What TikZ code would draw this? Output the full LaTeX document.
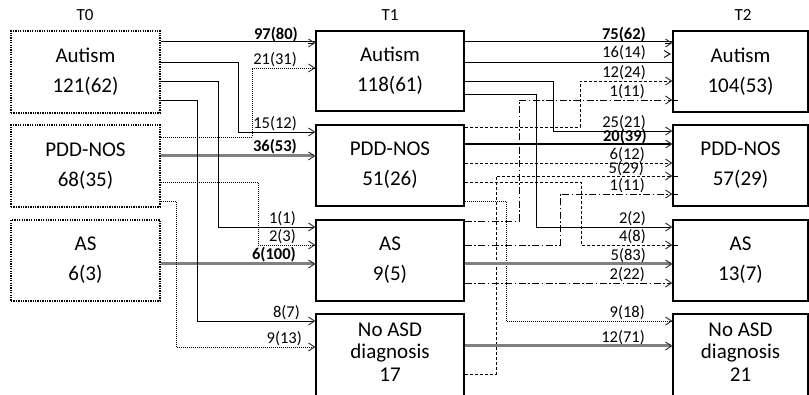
\documentclass[tikz,border=0pt]{standalone}
\usepackage{fontspec}
\setmainfont{Carlito}
\usetikzlibrary{arrows.meta}
\newcommand{\boxfnt}{\fontsize{21}{30}\selectfont}
\newcommand{\labfnt}{\fontsize{16.5}{19}\selectfont}
\begin{document}
\begin{tikzpicture}[x=1pt,y=-1pt,
  t0box/.style={draw, line width=1.3pt, dash pattern=on 1.3pt off 1.1pt, rectangle, inner sep=0pt, align=center, font=\boxfnt},
  t1box/.style={draw, line width=1.5pt, rectangle, inner sep=0pt, align=center, font=\boxfnt},
  ttl/.style={font=\fontsize{17}{20}\selectfont, inner sep=0pt},
  boxtxt/.style={font=\fontsize{21}{22.5}\selectfont, align=center, inner sep=0pt},
  lab/.style={font=\labfnt, anchor=base east, inner sep=0pt},
  labb/.style={font=\labfnt\bfseries, anchor=base east, inner sep=0pt},
  tip/.style={-{Straight Barb[length=6pt,width=8pt,line width=0.9pt,color=black!85]}},
  sol/.style={draw=black, line width=0.9pt},
  dott/.style={sol, dash pattern=on 1pt off 1pt},
  dsh/.style={sol, dash pattern=on 3pt off 2pt},
  dd/.style={sol, dash pattern=on 7pt off 2.5pt on 1.5pt off 2.5pt},
  thk/.style={draw=black!50, line width=3pt},
  dbl/.style={draw=black, line width=0.8pt, double distance=1.4pt}]
\useasboundingbox (0,0) rectangle (809,395);
\clip (0,0) rectangle (809,395);

% titles
\node[ttl] (t0) at (85,15) {T0};
\node[ttl] (t1) at (390,15) {T1};
\node[ttl] (t2) at (743,15) {T2};

% T0 boxes
\node[t0box, minimum width=149pt, minimum height=82pt] (a0) at (85.5,72) {Autism\\121(62)};
\node[t0box, minimum width=149pt, minimum height=82pt] (p0) at (85.5,166) {PDD-NOS\\68(35)};
\node[t0box, minimum width=149pt, minimum height=81pt] (s0) at (85.5,260.5) {AS\\6(3)};

% T1 boxes
\node[t1box, minimum width=148pt, minimum height=80pt] (a1) at (390,71) {Autism\\118(61)};
\node[t1box, minimum width=148pt, minimum height=81pt] (p1) at (390,165.5) {PDD-NOS\\51(26)};
\node[t1box, minimum width=148pt, minimum height=81pt] (s1) at (390,260.5) {AS\\9(5)};
\node[t1box, minimum width=148pt, minimum height=106pt] (n1) at (390,367) {};
\node[boxtxt] (n1t) at (390,352) {No ASD\\diagnosis\\17};

% T2 boxes
\node[t1box, minimum width=135pt, minimum height=81pt] (a2) at (740.5,71.5) {Autism\\104(53)};
\node[t1box, minimum width=135pt, minimum height=81pt] (p2) at (740.5,165.5) {PDD-NOS\\57(29)};
\node[t1box, minimum width=135pt, minimum height=81pt] (s2) at (740.5,260.5) {AS\\13(7)};
\node[t1box, minimum width=135pt, minimum height=106pt] (n2) at (740.5,367) {};
\node[boxtxt] (n2t) at (740.5,352) {No ASD\\diagnosis\\21};

% ---------- T0 -> T1 ----------
\draw[dbl] (a0.east |- 0,43) -- (a1.west |- 0,43);
\draw[sol,tip] (a1.west |- 0,43) ++(-7,0) -- (a1.west |- 0,43);
\node[labb] (l01) at (298,40) {97(80)};

\draw[dott,tip] (p0.east |- 0,137) -| (252,68) -- (a1.west |- 0,68);
\node[lab] (l02) at (297,65) {21(31)};

\draw[sol,tip] (a0.east |- 0,62) -| (238,132) -- (p1.west |- 0,132);
\node[lab] (l03) at (297,129) {15(12)};

\draw[thk,tip] (p0.east |- 0,156) -- (p1.west |- 0,156);
\node[labb] (l04) at (297,152) {36(53)};

\draw[sol,tip] (a0.east |- 0,81) -| (218,227) -- (s1.west |- 0,227);
\node[lab] (l05) at (296,224) {1(1)};

\draw[dott,tip] (p0.east |- 0,182) -| (258,245) -- (s1.west |- 0,245);
\node[lab] (l06) at (296,242) {2(3)};

\draw[thk,tip] (s0.east |- 0,264) -- (s1.west |- 0,264);
\node[labb] (l07) at (296,260) {6(100)};

\draw[sol,tip] (a0.east |- 0,100) -| (197,321) -- (n1.west |- 0,321);
\node[lab] (l08) at (300,318) {8(7)};

\draw[dott,tip] (p0.east |- 0,201) -| (176,347) -- (n1.west |- 0,347);
\node[lab] (l09) at (302,344) {9(13)};

% ---------- T1 -> T2 ----------
\draw[dbl] (a1.east |- 0,43) -- (a2.west |- 0,43);
\draw[sol,tip] (a2.west |- 0,43) ++(-7,0) -- (a2.west |- 0,43);
\node[labb] (l11) at (646,40) {75(62)};

\draw[sol] (a1.east |- 0,62) -- (a2.west |- 0,62);
\draw[sol] (664,50.5) -- (670,54) -- (664,57.5);
\node[lab] (l12) at (646,58) {16(14)};

\draw[dsh,tip] (p1.east |- 0,127) -| (580,81) -- (a2.west |- 0,81);
\node[lab] (l13) at (646,78) {12(24)};

\draw[dd,tip] (s1.east |- 0,221) -| (519,100) -- (a2.west |- 0,100);
\draw[sol] (a2.west |- 0,100) -- ++(6,0);
\node[lab] (l14) at (645,97) {1(11)};

\draw[sol,tip] (a1.east |- 0,81) -| (553,131) -- (p2.west |- 0,131);
\node[lab] (l15) at (646,128) {25(21)};

\draw[sol, line width=1.3pt, tip] (p1.east |- 0,144) -- (p2.west |- 0,144);
\node[labb] (l16) at (647,142) {20(39)};

\draw[dsh,tip] (p1.east |- 0,163) -- (p2.west |- 0,163);
\node[lab] (l17) at (645,160) {6(12)};

\draw[dsh,tip] (n1.east |- 0,374) -| (496,176) -- (p2.west |- 0,176);
\draw[sol] (p2.west |- 0,176) -- ++(6,0);
\node[lab] (l18) at (644,173.5) {5(29)};

\draw[dsh,tip] (p1.east |- 0,182) -| (581,245) -- (s2.west |- 0,245);
\draw[sol] (s2.west |- 0,245) -- ++(6,0);
\node[lab] (l19) at (646,242) {4(8)};

\draw[dott,tip] (p1.east |- 0,201) -| (506,321) -- (n2.west |- 0,321);
\node[lab] (l20) at (645,318) {9(18)};

\draw[dd,tip] (s1.east |- 0,245) -| (560,194) -- (p2.west |- 0,194);
\draw[sol] (p2.west |- 0,194) -- ++(6,0);
\node[lab] (l21) at (645,191) {1(11)};

\draw[sol,tip] (a1.east |- 0,94) -| (536,227) -- (s2.west |- 0,227);
\node[lab] (l22) at (646,224) {2(2)};

\draw[thk,tip] (s1.east |- 0,264) -- (s2.west |- 0,264);
\node[lab] (l23) at (646,261) {5(83)};

\draw[dd,tip] (s1.east |- 0,283) -- (s2.west |- 0,283);
\node[lab] (l24) at (645,280) {2(22)};

\draw[thk,tip] (n1.east |- 0,346) -- (n2.west |- 0,346);
\node[lab] (l25) at (645,343) {12(71)};
\end{tikzpicture}
\end{document}
